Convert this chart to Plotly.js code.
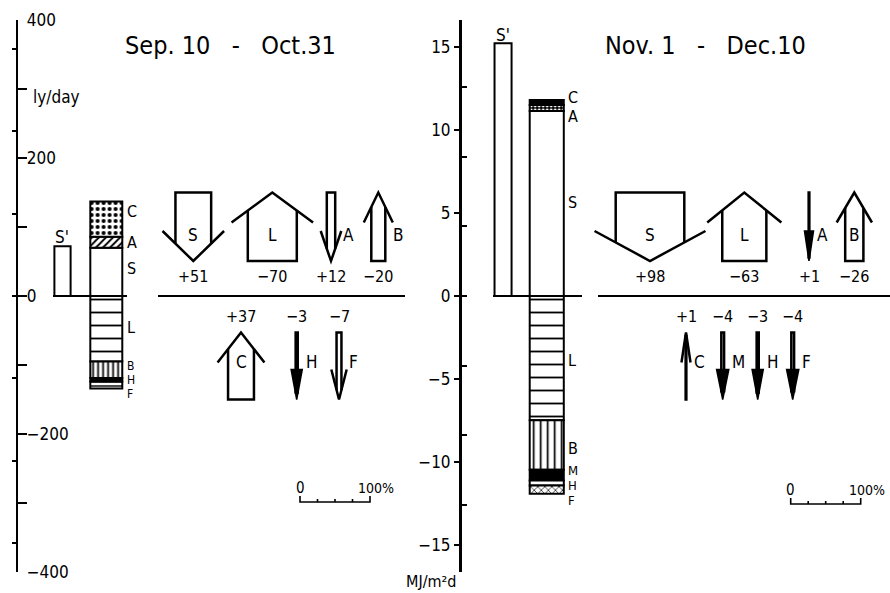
<!DOCTYPE html>
<html><head><meta charset="utf-8">
<script src="https://cdn.plot.ly/plotly-3.0.1.min.js"></script>
<style>html,body{margin:0;padding:0;background:#fff;}#chart{width:890px;height:593px;}</style>
</head><body><div id="chart"></div>
<script>
// ---------------- data ----------------
const barCats = ["S'", "budget"];
// Sep.10 - Oct.31 (ly/day)
const sepSPrime = 72;
const sepGainNames = ['S', 'A', 'C'];
const sepGainValues = [70, 16, 51];
const sepLossNames = ['L', 'B', 'H', 'F'];
const sepLossValues = [-95, -24, -5, -10];
const sepFluxNames = ['S', 'L', 'A', 'B', 'C', 'H', 'F'];
const sepFluxPct = [51, -70, 12, -20, 37, -3, -7];
// Nov.1 - Dec.10 (MJ/m2 d)
const novSPrime = 15.2;
const novGainNames = ['S', 'A', 'C'];
const novGainValues = [11.13, 0.36, 0.3];
const novLossNames = ['L', 'B', 'M', 'H', 'F'];
const novLossValues = [-7.48, -2.97, -0.64, -0.3, -0.5];
const novFluxNames = ['S', 'L', 'A', 'B', 'C', 'M', 'H', 'F'];
const novFluxPct = [98, -63, 1, -26, 1, -4, -3, -4];
// axes
const lyTickVals = [-400, -300, -200, -100, 0, 100, 200, 300, 400];
const lyTickText = ['\u2212400', '', '\u2212200', '', '0', '', '200', '', '400'];
const mjTickVals = [-15, -10, -5, 0, 5, 10, 15];
const mjTickText = ['\u221215', '\u221210', '\u22125', '0', '5', '10', '15'];
const LY_TO_MJ = 0.04184;

// ---------------- layout / style ----------------
const W = 890, H = 593;
const FONT = '"DejaVu Sans Condensed", "Liberation Sans Narrow", "DejaVu Sans", sans-serif';
const Y_DOMAIN = [1 - 572 / H, 1 - 20 / H];
const PX_PER_PCT = 0.7;
const ROWS = [[192.5, 261], [332.5, 399.5]];
const sepArrowX = [193.3, 272.3, 331, 378.3, 241, 296.7, 339];
const sepArrowRow = [0, 0, 0, 0, 1, 1, 1];
const novArrowX = [650, 744.3, 809, 854.3, 686, 722.7, 757.7, 792.7];
const novArrowRow = [0, 0, 0, 0, 1, 1, 1, 1];

const sepStyles = {
  S: {bg: 'white'},
  A: {bg: 'white', shape: '/', size: 5, sol: 0.4},
  C: {bg: 'white', shape: '.', size: 6, sol: 0.35},
  L: {bg: 'white', shape: '-', size: 13, sol: 0.14},
  B: {bg: 'white', shape: '|', size: 5, sol: 0.35},
  H: {bg: 'black'},
  F: {bg: 'white', shape: '-', size: 4, sol: 0.35}
};
const novStyles = {
  S: {bg: 'white'},
  A: {bg: 'black', fg: 'white', shape: '.', size: 4, sol: 0.4},
  C: {bg: 'black'},
  L: {bg: 'white', shape: '-', size: 13, sol: 0.14},
  B: {bg: 'white', shape: '|', size: 7, sol: 0.25},
  M: {bg: 'black'},
  H: {bg: 'white'},
  F: {bg: 'white', shape: 'x', size: 5, sol: 0.25}
};

function barTrace(xa, ya, cat, val, width, st) {
  const m = {color: st.bg, line: {color: 'black', width: 2}};
  if (st.shape) m.pattern = {shape: st.shape, bgcolor: st.bg, fgcolor: st.fg || 'black',
    size: st.size || 6, solidity: st.sol || 0.3, fillmode: 'replace'};
  return {type: 'bar', x: [cat], y: [val], width: [width], xaxis: xa, yaxis: ya,
    marker: m, hoverinfo: 'skip', showlegend: false};
}

const traces = [];
traces.push(barTrace('x', 'y', barCats[0], sepSPrime, 0.37, {bg: 'white'}));
sepGainNames.forEach((n, i) => traces.push(barTrace('x', 'y', barCats[1], sepGainValues[i], 0.73, sepStyles[n])));
sepLossNames.forEach((n, i) => traces.push(barTrace('x', 'y', barCats[1], sepLossValues[i], 0.73, sepStyles[n])));
traces.push(barTrace('x2', 'y2', barCats[0], novSPrime, 0.39, {bg: 'white'}));
novGainNames.forEach((n, i) => traces.push(barTrace('x2', 'y2', barCats[1], novGainValues[i], 0.78, novStyles[n])));
novLossNames.forEach((n, i) => traces.push(barTrace('x2', 'y2', barCats[1], novLossValues[i], 0.78, novStyles[n])));
traces.push({type: 'scatter', x: [], y: [], xaxis: 'x', yaxis: 'y3', showlegend: false, hoverinfo: 'skip'});
traces.push({type: 'scatter', x: [], y: [], xaxis: 'x2', yaxis: 'y4', showlegend: false, hoverinfo: 'skip'});

// ---------------- shapes ----------------
const shapes = [];
const LW = 2.5;
function pt(x, y) { return (x / W).toFixed(5) + ',' + (1 - y / H).toFixed(5); }
function pathShape(d, fill, lw) {
  return {type: 'path', xref: 'paper', yref: 'paper', path: d,
    line: {color: 'black', width: lw || LW}, fillcolor: fill || 'rgba(0,0,0,0)', layer: 'above'};
}
const annotations = [];
function ann(x, y, text, size, xanchor) {
  annotations.push({xref: 'paper', yref: 'paper', x: x / W, y: 1 - y / H, text: text,
    showarrow: false, xanchor: xanchor || 'center', yanchor: 'middle',
    font: {family: FONT, size: size, color: 'black'}});
}
function fmt(p) { return (p > 0 ? '+' : '\u2212') + Math.abs(p); }

function addArrow(cx, pct, row, name) {
  const hw = Math.abs(pct) * PX_PER_PCT / 2;
  const yT = ROWS[row][0], yB = ROWS[row][1];
  const down = row === 0 ? pct > 0 : pct < 0;
  const tipY = down ? yB : yT, tailY = down ? yT : yB;
  const s = down ? -1 : 1;
  const headLen = 30, headHalf = 1.5 * hw + 4;
  const yBarb = tipY + s * headLen;
  const yJoin = tipY + s * headLen * (hw / headHalf);
  shapes.push(pathShape('M' + pt(cx - hw, yJoin) + ' L' + pt(cx - hw, tailY) + ' L' + pt(cx + hw, tailY) + ' L' + pt(cx + hw, yJoin)));
  if (Math.abs(pct) <= 4 && down) {
    shapes.push(pathShape('M' + pt(cx - headHalf, yBarb) + ' L' + pt(cx, tipY) + ' L' + pt(cx + headHalf, yBarb) + ' Z', 'black', 1.5));
  } else {
    shapes.push(pathShape('M' + pt(cx - headHalf, yBarb) + ' L' + pt(cx, tipY) + ' L' + pt(cx + headHalf, yBarb)));
  }
  const letterY = row === 0 ? 235 : 362;
  if (Math.abs(pct) >= 25) ann(cx, letterY, name, 17);
  else ann(cx + hw + 6, letterY, name, 17, 'left');
  ann(cx, row === 0 ? 276 : 317, fmt(pct), 16);
}
sepFluxNames.forEach((n, i) => addArrow(sepArrowX[i], sepFluxPct[i], sepArrowRow[i], n));
novFluxNames.forEach((n, i) => addArrow(novArrowX[i], novFluxPct[i], novArrowRow[i], n));

// zero lines
function zeroLine(yref, x0, x1) {
  shapes.push({type: 'line', xref: 'paper', yref: yref, x0: x0 / W, x1: x1 / W, y0: 0, y1: 0,
    line: {color: 'black', width: 2}, layer: 'below'});
}
zeroLine('y', 53, 127); zeroLine('y', 158, 405);
zeroLine('y2', 493, 582); zeroLine('y2', 598, 890);

// scale bars (0 - 100 %)
function scaleBar(x0, y) {
  const x1 = x0 + 100 * PX_PER_PCT;
  let d = 'M' + pt(x0, y - 6) + ' L' + pt(x0, y) + ' L' + pt(x1, y) + ' L' + pt(x1, y - 6);
  for (let k = 1; k < 4; k++) { const xk = x0 + k * 25 * PX_PER_PCT; d += ' M' + pt(xk, y) + ' L' + pt(xk, y - 3); }
  shapes.push(pathShape(d, null, 1.6));
  ann(x0, y - 14, '0', 15);
  ann(x1 - 14, y - 14, '100%', 14, 'left');
}
scaleBar(300, 502);
scaleBar(790.7, 504);

// ---------------- text ----------------
ann(230, 45, 'Sep. 10\u00a0\u00a0 -\u00a0\u00a0 Oct.31', 25);
ann(705, 45, 'Nov. 1\u00a0\u00a0 -\u00a0\u00a0 Dec.10', 25);
ann(56, 97, 'ly/day', 17);
ann(431, 581, 'MJ/m\u00b2d', 16);
ann(62, 237, "S'", 17);
ann(503, 35, "S'", 17);
const sepLabelY = {C: 212, A: 243, S: 268, L: 327};
Object.keys(sepLabelY).forEach(k => ann(125, sepLabelY[k], k, 16, 'left'));
const sepSmallLabelY = {B: 366, H: 380, F: 394};
Object.keys(sepSmallLabelY).forEach(k => ann(125, sepSmallLabelY[k], k, 12, 'left'));
const novLabelY = {C: 97, A: 117, S: 202, L: 360, B: 448};
Object.keys(novLabelY).forEach(k => ann(566, novLabelY[k], k, 16, 'left'));
const novSmallLabelY = {M: 470, H: 485, F: 500};
Object.keys(novSmallLabelY).forEach(k => ann(566, novSmallLabelY[k], k, 13, 'left'));

// ---------------- axes ----------------
const tickFont = {family: FONT, size: 17, color: 'black'};
const layout = {
  width: W, height: H, margin: {l: 0, r: 0, t: 0, b: 0},
  paper_bgcolor: 'white', plot_bgcolor: 'rgba(0,0,0,0)',
  barmode: 'relative', showlegend: false, hovermode: false,
  xaxis: {domain: [40.6 / W, 128.2 / W], type: 'category', categoryarray: barCats, range: [-0.5, 1.5], visible: false, fixedrange: true},
  xaxis2: {domain: [481.2 / W, 568.6 / W], type: 'category', categoryarray: barCats, range: [-0.5, 1.5], visible: false, fixedrange: true},
  yaxis: {domain: Y_DOMAIN, range: [-400, 400], anchor: 'free', position: 16.7 / W,
    showline: true, linewidth: 2.5, linecolor: 'black', ticks: 'inside', ticklen: 9, tickwidth: 2, tickcolor: 'black',
    tickmode: 'array', tickvals: lyTickVals, ticktext: lyTickText, ticklabelposition: 'inside', ticklabeloverflow: 'allow',
    showgrid: false, zeroline: false, tickfont: tickFont, fixedrange: true},
  yaxis3: {overlaying: 'y', range: [-400, 400], anchor: 'free', position: 16.7 / W, showline: false,
    ticks: 'outside', ticklen: 5, tickwidth: 2, tickcolor: 'black', tickmode: 'array',
    tickvals: [-15, -10, -5, 0, 5, 10, 15].map(v => v / LY_TO_MJ), showticklabels: false,
    showgrid: false, zeroline: false, fixedrange: true},
  yaxis2: {domain: Y_DOMAIN, range: [-16.6, 16.6], anchor: 'free', position: 460 / W,
    showline: true, linewidth: 2.5, linecolor: 'black', ticks: 'outside', ticklen: 5, tickwidth: 2, tickcolor: 'black',
    tickmode: 'array', tickvals: mjTickVals, ticktext: mjTickText, ticklabeloverflow: 'allow',
    showgrid: false, zeroline: false, tickfont: tickFont, fixedrange: true},
  yaxis4: {overlaying: 'y2', range: [-16.6, 16.6], anchor: 'free', position: 460 / W, showline: false,
    ticks: 'inside', ticklen: 6, tickwidth: 2, tickcolor: 'black', tickmode: 'array',
    tickvals: [-300, -200, -100, 0, 100, 200, 300].map(v => v * LY_TO_MJ).concat([16.6]), showticklabels: false,
    showgrid: false, zeroline: false, fixedrange: true},
  shapes: shapes,
  annotations: annotations
};
Plotly.newPlot('chart', traces, layout, {displayModeBar: false, staticPlot: true});
</script>
</body></html>
